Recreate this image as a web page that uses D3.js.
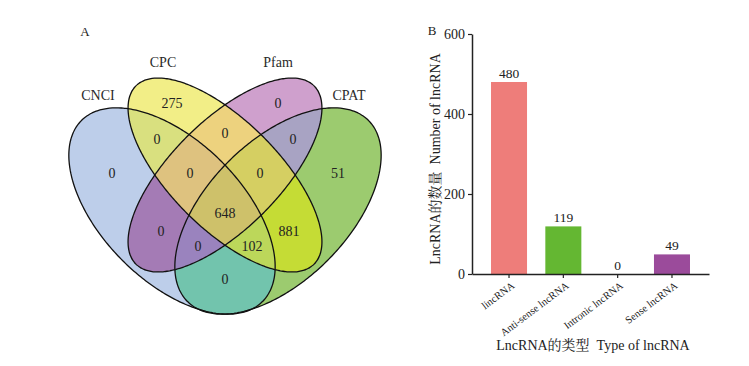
<!DOCTYPE html>
<html><head><meta charset="utf-8">
<script src="https://cdn.jsdelivr.net/npm/d3@7/dist/d3.min.js"></script>
<style>body{margin:0;background:#fff}svg{display:block}</style>
</head><body><svg id="c" width="749" height="366"></svg>
<script>
// ---------- data ----------
const setNames = ["CNCI", "CPC", "Pfam", "CPAT"];
const regionSets = ["CNCI", "CPC", "Pfam", "CPAT",
  "CNCI&CPC", "CPC&Pfam", "Pfam&CPAT", "CNCI&Pfam", "CPC&CPAT", "CNCI&CPAT",
  "CNCI&CPC&Pfam", "CPC&Pfam&CPAT", "CNCI&Pfam&CPAT", "CNCI&CPC&CPAT",
  "CNCI&CPC&Pfam&CPAT"];
const regionCounts = [0, 275, 0, 51, 0, 0, 0, 0, 881, 0, 0, 0, 0, 102, 648];

const categories = ["lincRNA", "Anti-sense lncRNA", "Intronic lncRNA", "Sense lncRNA"];
const values = [480, 119, 0, 49];
const yTicks = [0, 200, 400, 600];

// ---------- layout / style ----------
const W = 749, H = 366;
const serif = "'Liberation Serif','Times New Roman','Noto Serif CJK SC','Noto Sans CJK SC',serif";
const shapes = [ // cx, cy, a, b, rotation(deg)
  {cx: 172, cy: 211, a: 128, b: 70, r: 45},
  {cx: 225, cy: 175, a: 126, b: 54, r: 45},
  {cx: 225, cy: 175, a: 126, b: 54, r: -45},
  {cx: 278, cy: 211, a: 128, b: 70, r: -45}
];
const regionColors = ["#BDCEEA", "#F2EE87", "#CFA0CD", "#9CCB6F",
  "#D9E07F", "#EDD27E", "#A8A3C3", "#A47BB5", "#C5DC35", "#72C4AD",
  "#DEC27F", "#D5CF62", "#9A83BE", "#BCD75A", "#CEC16A"];
const regionLabelPos = [[112,173],[172,103],[278,103],[338,173],
  [157,139],[225,133],[293,139],[161,231],[289,231],[225,279],
  [190,173],[260,173],[198,246],[252,246],[225,213]];
const setLabelPos = [[98,95],[163,62],[278,62],[349,95]];
const barColors = ["#EE7D7A", "#64B732", "#9B4B9B", "#9B4B9B"];

const svg = d3.select("#c");
const defs = svg.append("defs");

function shapePath(s) {
  const pts = d3.range(0, 360, 2).map(d => {
    const t = d * Math.PI / 180;
    const u = s.a * Math.cos(t), v = s.b * Math.sin(t);
    const rr = s.r * Math.PI / 180;
    return [s.cx + u * Math.cos(rr) - v * Math.sin(rr), s.cy + u * Math.sin(rr) + v * Math.cos(rr)];
  });
  return d3.line().curve(d3.curveCardinalClosed.tension(0.5))(pts);
}

shapes.forEach((s, i) => {
  defs.append("clipPath").attr("id", "in" + i).append("path").attr("d", shapePath(s));
  const m = defs.append("mask").attr("id", "out" + i)
    .attr("maskUnits", "userSpaceOnUse").attr("x", 0).attr("y", 0).attr("width", W).attr("height", H);
  m.append("rect").attr("width", W).attr("height", H).attr("fill", "#fff");
  m.append("path").attr("d", shapePath(s)).attr("fill", "#000");
});

const venn = svg.append("g");
const color = d3.scaleOrdinal(regionSets, regionColors);
regionSets.forEach(r => {
  const mem = r.split("&");
  let g = venn;
  setNames.forEach((n, i) => {
    if (mem.includes(n)) g = g.append("g").attr("clip-path", `url(#in${i})`);
    else g = g.append("g").attr("mask", `url(#out${i})`);
  });
  g.append("rect").attr("x", 40).attr("y", 40).attr("width", 380).attr("height", 300).attr("fill", color(r));
});
venn.selectAll("path.outline").data(shapes).join("path").attr("class", "outline")
  .attr("d", shapePath).attr("fill", "none").attr("stroke", "#111").attr("stroke-width", 1.3);

venn.selectAll("text.cnt").data(regionSets).join("text").attr("class", "cnt")
  .attr("x", (d, i) => regionLabelPos[i][0]).attr("y", (d, i) => regionLabelPos[i][1])
  .attr("dy", "0.35em").attr("text-anchor", "middle")
  .style("font-family", serif).style("font-size", "14px").attr("fill", "#222")
  .text((d, i) => regionCounts[i]);
venn.selectAll("text.set").data(setNames).join("text").attr("class", "set")
  .attr("x", (d, i) => setLabelPos[i][0]).attr("y", (d, i) => setLabelPos[i][1])
  .attr("dy", "0.35em").attr("text-anchor", "middle")
  .style("font-family", serif).style("font-size", "14px").attr("fill", "#2a2a2a")
  .text(d => d);
svg.append("text").attr("x", 85).attr("y", 36).attr("text-anchor", "middle")
  .style("font-family", serif).style("font-size", "13px").attr("fill", "#222").text("A");

// ---------- bar chart ----------
const x = d3.scaleBand(categories, [472, 709]).paddingInner(0.337).paddingOuter(0.35);
const y = d3.scaleLinear([0, 600], [274, 34]);
const bar = svg.append("g");
bar.selectAll("rect").data(values).join("rect")
  .attr("x", (d, i) => x(categories[i])).attr("width", x.bandwidth())
  .attr("y", d => y(d)).attr("height", d => y(0) - y(d))
  .attr("fill", (d, i) => barColors[i]);
bar.selectAll("text.val").data(values).join("text").attr("class", "val")
  .attr("x", (d, i) => x(categories[i]) + x.bandwidth() / 2).attr("y", d => y(d) - 4)
  .attr("text-anchor", "middle").style("font-family", serif).style("font-size", "13.5px")
  .attr("fill", "#222").text(d => d);

const ya = bar.append("g").attr("transform", "translate(472,0)")
  .call(d3.axisLeft(y).tickValues(yTicks).tickSize(4).tickSizeOuter(0).tickPadding(3));
const xa = bar.append("g").attr("transform", "translate(0,274)")
  .call(d3.axisBottom(x).tickSize(4).tickSizeOuter(0));
[ya, xa].forEach(a => {
  a.select(".domain").attr("stroke", "#222").attr("stroke-width", 1.5);
  a.selectAll(".tick line").attr("stroke", "#222").attr("stroke-width", 1.2);
});
ya.selectAll(".tick text").style("font-family", serif).style("font-size", "14px").attr("fill", "#222");
xa.selectAll(".tick text").style("font-family", serif).style("font-size", "10.5px").attr("fill", "#222")
  .attr("text-anchor", "end").attr("y", 0).attr("dy", "0.35em")
  .attr("transform", "translate(4,10) rotate(-37)");

svg.append("text").attr("x", 432).attr("y", 35).attr("text-anchor", "middle")
  .style("font-family", serif).style("font-size", "13px").attr("fill", "#222").text("B");
svg.append("text").attr("transform", "translate(440,159) rotate(-90)").attr("text-anchor", "middle")
  .style("font-family", serif).style("font-size", "14px").attr("fill", "#222")
  .text("LncRNA的数量\u00a0\u00a0Number of lncRNA");
svg.append("text").attr("x", 593).attr("y", 350).attr("text-anchor", "middle")
  .style("font-family", serif).style("font-size", "14px").attr("fill", "#222")
  .text("LncRNA的类型\u00a0\u00a0Type of lncRNA");
</script></body></html>
